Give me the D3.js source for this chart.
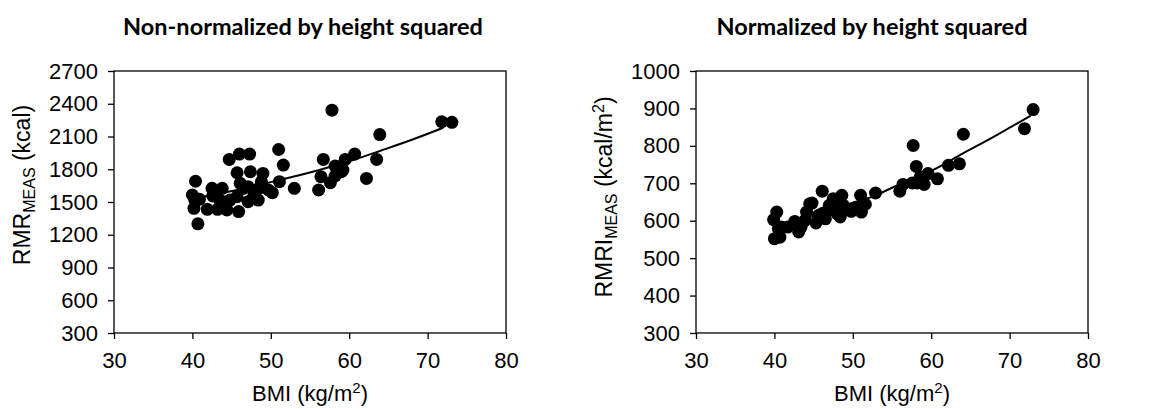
<!DOCTYPE html>
<html>
<head>
<meta charset="utf-8">
<script src="https://cdn.jsdelivr.net/npm/d3@7"></script>
<style>
  body { margin: 0; background: #fff; }
  text { font-family: "Liberation Sans", Arial, sans-serif; fill: #000; }
  .title { font-family: Lato, "Open Sans", sans-serif; font-weight: bold; font-size: 23.5px; }
</style>
</head>
<body>
<script>
  // BMI (kg/m2) and measured RMR (kcal), left panel
  const bmiLeft = [40.0, 40.4, 40.2, 40.7, 40.9, 40.3, 41.9, 42.5, 42.6, 43.2, 43.8, 43.5, 44.4, 44.7, 44.8,
    45.7, 46.0, 45.9, 45.7, 46.1, 46.5, 47.1, 47.3, 47.4, 47.1, 47.8, 48.4, 49.0, 48.8, 48.5, 49.7, 50.2,
    51.0, 51.1, 51.6, 53.0, 56.1, 56.4, 56.7, 57.8, 57.6, 58.2, 58.2, 58.7, 59.0, 59.5, 59.2, 60.7, 62.2,
    63.5, 63.9, 71.8, 73.1];
  const rmr = [1564, 1690, 1442, 1300, 1525, 1518, 1433, 1625, 1555, 1433, 1625, 1518, 1427, 1890, 1518,
    1768, 1939, 1412, 1549, 1671, 1625, 1503, 1939, 1777, 1640, 1549, 1518, 1762, 1686, 1625, 1610, 1585,
    1981, 1686, 1838, 1625, 1610, 1732, 1890, 2341, 1677, 1738, 1829, 1823, 1777, 1890, 1792, 1939, 1716,
    1890, 2118, 2235, 2230];

  // BMI and RMR indexed by height squared (kcal/m2), right panel
  const bmiRight = [39.9, 40.3, 40.0, 40.7, 40.5, 40.9, 41.7, 42.6, 43.1, 43.4, 43.9, 44.1, 44.5, 44.8, 45.3,
    45.6, 46.1, 46.1, 46.5, 46.8, 47.0, 47.5, 47.7, 47.8, 48.0, 48.4, 48.6, 48.8, 49.2, 49.8, 50.4, 51.0,
    51.1, 51.6, 52.9, 56.0, 56.4, 57.6, 57.7, 58.1, 58.2, 58.6, 59.1, 59.6, 60.8, 62.2, 63.6, 64.1, 71.9, 73.0];
  const rmri = [603, 623, 552, 556, 579, 583, 583, 598, 570, 583, 601, 623, 645, 647, 594,
    614, 679, 619, 605, 628, 641, 659, 632, 650, 619, 610, 668, 641, 632, 625, 635, 668,
    623, 644, 674, 679, 697, 701, 801, 745, 701, 717, 697, 726, 712, 748, 752, 831, 846, 897];

  // fitted trend lines
  const fitBmiLeft = [40, 42.6, 46, 50, 54, 58, 60.7, 64, 68, 72];
  const fitRmr = [1530, 1565, 1615, 1682, 1752, 1830, 1890, 1970, 2070, 2180];
  const fitBmiRight = [40, 45, 50, 52.6, 55, 57.7, 60.2, 64, 68.3, 72.7];
  const fitRmri = [578, 613, 648, 665, 688, 712, 735, 779, 828, 881];

  const xTicks = [30, 40, 50, 60, 70, 80];
  const yTicksLeft = [300, 600, 900, 1200, 1500, 1800, 2100, 2400, 2700];
  const yTicksRight = [300, 400, 500, 600, 700, 800, 900, 1000];

  const width = 1158, height = 409;
  const svg = d3.select("body").append("svg")
    .attr("width", width)
    .attr("height", height);

  function panel(opts) {
    const x = d3.scaleLinear().domain([30, 80]).range([opts.left, opts.left + 392]);
    const y = d3.scaleLinear().domain(opts.yDomain).range([333, 71]);
    const g = svg.append("g");

    g.append("text").attr("class", "title")
      .attr("x", opts.titleX).attr("y", 35)
      .attr("text-anchor", "middle")
      .text(opts.title);

    // plot frame
    g.append("rect")
      .attr("x", x(30)).attr("y", y(opts.yDomain[1]))
      .attr("width", x(80) - x(30)).attr("height", y(opts.yDomain[0]) - y(opts.yDomain[1]))
      .attr("fill", "none").attr("stroke", "#000").attr("stroke-width", 1.3);

    const xAxis = g.append("g")
      .attr("transform", `translate(0,${y(opts.yDomain[0])})`)
      .call(d3.axisBottom(x).tickValues(xTicks).tickFormat(d3.format("d")).tickSize(6).tickPadding(13));
    const yAxis = g.append("g")
      .attr("transform", `translate(${x(30)},0)`)
      .call(d3.axisLeft(y).tickValues(opts.yTicks).tickFormat(d3.format("d")).tickSize(6).tickPadding(10));
    [xAxis, yAxis].forEach(a => {
      a.select(".domain").remove();
      a.selectAll("line").attr("stroke", "#000").attr("stroke-width", 1.3);
      a.selectAll("text").style("font-family", '"Liberation Sans", Arial, sans-serif')
        .attr("font-size", 22).attr("fill", "#000");
    });

    g.selectAll("circle.pt")
      .data(opts.xs.map((v, i) => [v, opts.ys[i]]))
      .join("circle")
      .attr("class", "pt")
      .attr("cx", d => x(d[0]))
      .attr("cy", d => y(d[1]))
      .attr("r", 6.5)
      .attr("fill", "#000");

    g.append("path")
      .datum(opts.fitX.map((v, i) => [v, opts.fitY[i]]))
      .attr("fill", "none").attr("stroke", "#000").attr("stroke-width", 2)
      .attr("d", d3.line().x(d => x(d[0])).y(d => y(d[1])).curve(d3.curveMonotoneX));

    // x label with superscript
    const xl = g.append("text")
      .attr("x", (x(30) + x(80)) / 2).attr("y", 401)
      .attr("text-anchor", "middle").attr("font-size", 22);
    xl.append("tspan").text("BMI (kg/m");
    xl.append("tspan").attr("dy", -8).attr("font-size", 15).text("2");
    xl.append("tspan").attr("dy", 8).text(")");

    // y label with subscript
    const yl = g.append("text")
      .attr("transform", `translate(${opts.left - 84},${opts.yLabelY}) rotate(-90)`)
      .attr("text-anchor", "middle").attr("font-size", 23);
    yl.append("tspan").text(opts.yLabel[0]);
    yl.append("tspan").attr("dy", 5).attr("font-size", 16).text("MEAS");
    yl.append("tspan").attr("dy", -5).text(opts.yLabel[1]);
    if (opts.yLabel[2]) {
      yl.append("tspan").attr("dy", -8).attr("font-size", 16).text(opts.yLabel[2]);
      yl.append("tspan").attr("dy", 8).text(opts.yLabel[3]);
    }
  }

  panel({
    left: 114, title: "Non-normalized by height squared", titleX: 303,
    yDomain: [300, 2700], yTicks: yTicksLeft, yLabelY: 185,
    yLabel: ["RMR", " (kcal)"],
    xs: bmiLeft, ys: rmr, fitX: fitBmiLeft, fitY: fitRmr
  });

  panel({
    left: 696, title: "Normalized by height squared", titleX: 872,
    yDomain: [300, 1000], yTicks: yTicksRight, yLabelY: 197,
    yLabel: ["RMRI", " (kcal/m", "2", ")"],
    xs: bmiRight, ys: rmri, fitX: fitBmiRight, fitY: fitRmri
  });
</script>
</body>
</html>
